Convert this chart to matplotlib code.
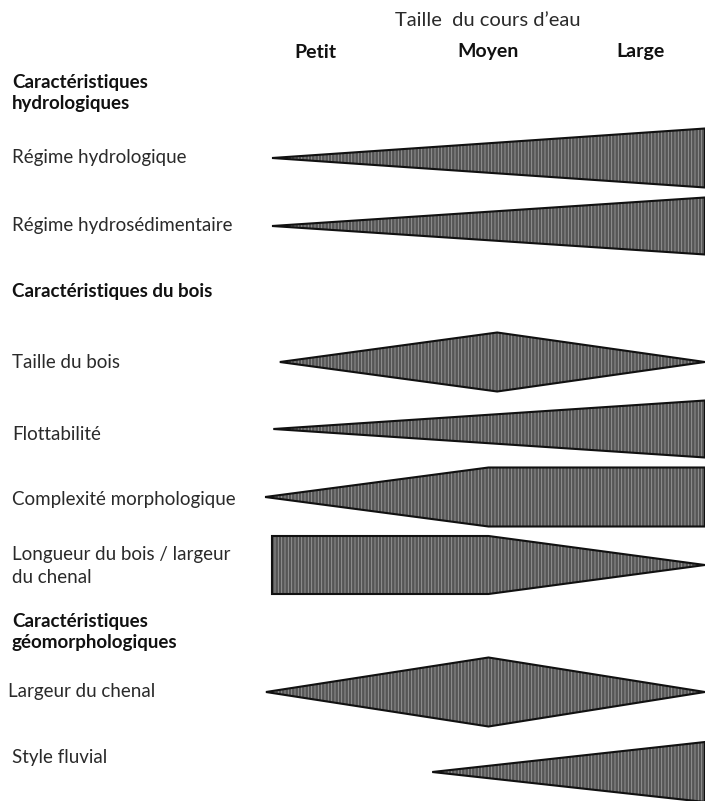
import matplotlib.pyplot as plt
from matplotlib.patches import Polygon
import numpy as np

plt.rcParams['font.family'] = ['Lato', 'DejaVu Sans']
plt.rcParams['hatch.linewidth'] = 0.6

# size axis: 0 = petit, 50 = moyen, 100 = large
size_labels = ["Petit", "Moyen", "Large"]
size_pos = [10, 50, 85]

# each row: label, y centre (px), profile of (size, relative half-width)
row_labels = ["Régime hydrologique", "Régime hydrosédimentaire",
              "Taille du bois", "Flottabilité", "Complexité morphologique",
              "Longueur du bois / largeur\ndu chenal",
              "Largeur du chenal", "Style fluvial"]
row_y = [158, 226, 362, 429, 497, 565, 692, 772]
row_half = [29.5, 28.5, 29.5, 28.5, 29.5, 29, 34.5, 30]
profile_x = [
    [0, 100],
    [0, 100],
    [1.8, 52, 100],
    [0.3, 100],
    [-1.6, 50, 100],
    [0, 50, 100],
    [-1.4, 50, 100],
    [37, 100],
]
profile_w = [
    [0.0, 1.0],
    [0.0, 1.0],
    [0.0, 1.0, 0.0],
    [0.0, 1.0],
    [0.0, 1.0, 1.0],
    [1.0, 1.0, 0.0],
    [0.0, 1.0, 0.0],
    [0.0, 1.0],
]

headers = ["Caractéristiques\nhydrologiques", "Caractéristiques du bois",
           "Caractéristiques\ngéomorphologiques"]
header_y = [93, 292, 632]

W, H = 705, 801
fig = plt.figure(figsize=(W / 100, H / 100), dpi=100)
ax = fig.add_axes([0, 0, 1, 1])
px = 433 / 100.0  # pixels per size unit
ax.set_xlim(-272 / px, (W - 272) / px)
ax.set_ylim(H, 0)
ax.axis('off')

for i in range(len(row_labels)):
    xs = np.array(profile_x[i], dtype=float)
    ws = np.array(profile_w[i]) * row_half[i]
    top = np.column_stack([xs, row_y[i] - ws])
    bot = np.column_stack([xs[::-1], (row_y[i] + ws)[::-1]])
    pts = np.vstack([top, bot])
    ax.add_patch(Polygon(pts, closed=True, facecolor='#555555',
                         edgecolor='#9c9c9c', hatch='|||||', linewidth=0))
    ax.add_patch(Polygon(pts, closed=True, fill=False,
                         edgecolor='#111111', linewidth=1.5, joinstyle='miter'))

def fx(p):
    return p / W

def fy(p):
    return 1 - p / H

fig.text(fx(488), fy(20), "Taille  du cours d’eau", fontsize=14.5,
         ha='center', va='center', color='#2a2a2a')
for lab, s in zip(size_labels, size_pos):
    ax.text(s, 52, lab, fontsize=14, fontweight='bold', ha='center',
            va='center', color='#111111')

label_x = [12, 12, 12, 12, 12, 12, 8, 12]
for lab, y, lx in zip(row_labels, row_y, label_x):
    ty = y
    if lab.startswith("Longueur"):
        ty = 566
    elif lab.startswith("Complexité"):
        ty = 499
    elif lab.startswith("Flottab"):
        ty = 434
    elif lab.startswith("Style"):
        ty = 758
    fig.text(fx(lx), fy(ty), lab, fontsize=13.5, ha='left', va='center',
             color='#2a2a2a', linespacing=1.4)

for lab, y in zip(headers, header_y):
    fig.text(fx(12), fy(y), lab, fontsize=13.5, fontweight='bold',
             ha='left', va='center', color='#111111', linespacing=1.3)

fig.savefig("out.png", dpi=100, facecolor='white')
